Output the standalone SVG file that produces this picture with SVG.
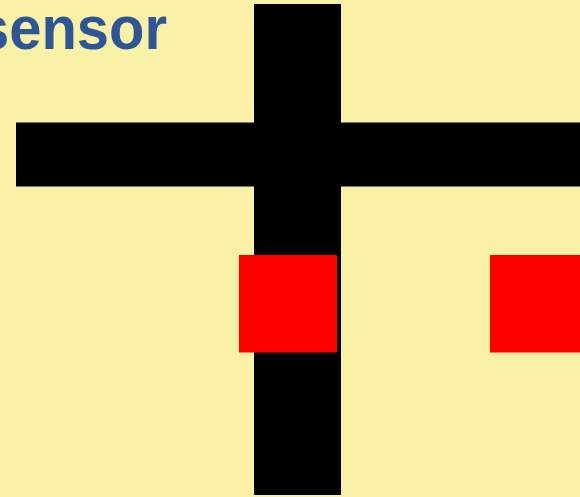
<svg xmlns="http://www.w3.org/2000/svg" width="580" height="497" viewBox="0 0 580 497">
<style>
.bar{fill:#000;}
.sq{fill:#FF0000;}
.lbl{font-family:"Liberation Sans",Arial,sans-serif;font-weight:bold;fill:#2E5596;}
</style>
<rect x="0" y="0" width="580" height="497" fill="#F9F1A5"/>
<text class="lbl" x="-23" y="48.5" font-size="62" textLength="190" lengthAdjust="spacingAndGlyphs">sensor</text>
<g id="vertical-bar"><rect class="bar" x="254" y="4" width="87" height="491"/></g>
<g id="horizontal-bar"><rect class="bar" x="16" y="122.5" width="564" height="64"/></g>
<g id="square-1"><rect class="sq" x="239" y="255" width="98" height="97.5"/></g>
<g id="square-2"><rect class="sq" x="490" y="255" width="90" height="97.5"/></g>
</svg>
